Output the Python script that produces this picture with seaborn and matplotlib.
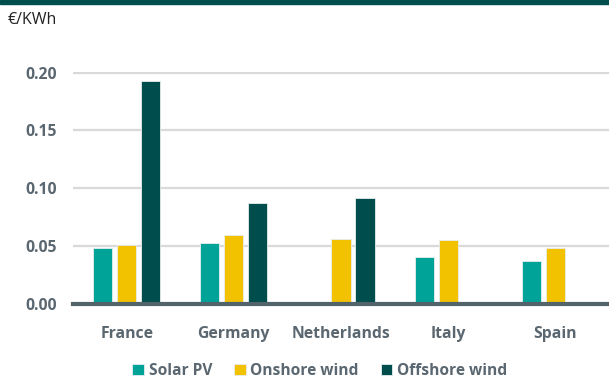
import numpy as np
import pandas as pd
import matplotlib
matplotlib.use("Agg")
import matplotlib.pyplot as plt
import seaborn as sns
from matplotlib.ticker import FixedLocator

countries = ["France", "Germany", "Netherlands", "Italy", "Spain"]
solar_pv = [0.048, 0.053, np.nan, 0.041, 0.037]
onshore_wind = [0.051, 0.060, 0.056, 0.055, 0.048]
offshore_wind = [0.193, 0.087, 0.092, np.nan, np.nan]
series_names = ["Solar PV", "Onshore wind", "Offshore wind"]
colors = ["#00A398", "#F2C100", "#004D4D"]
yticks = [0.00, 0.05, 0.10, 0.15, 0.20]
unit_label = "€/KWh"

rows = []
for name, vals in zip(series_names, [solar_pv, onshore_wind, offshore_wind]):
    for c, v in zip(countries, vals):
        rows.append({"country": c, "tech": name, "value": v})
df = pd.DataFrame(rows)

sns.set_theme(style="white")
plt.rcParams["font.family"] = ["Open Sans", "DejaVu Sans"]

fig = plt.figure(figsize=(6.09, 3.81), dpi=100)
ax = fig.add_axes([0.12, 0.202, 0.88, 0.609])

sns.barplot(data=df, x="country", y="value", hue="tech", order=countries,
            hue_order=series_names, palette=colors, saturation=1, width=0.67, gap=0.2,
            edgecolor="#e8eeee", linewidth=0.6, ax=ax, legend=True, zorder=3)

ax.set_xlim(-0.5, 4.5)
ax.set_ylim(0, 0.2005)
ax.set_yticks(yticks)
ax.set_yticklabels([f"{t:.2f}" for t in yticks])
ax.yaxis.grid(True, color="#d9d9d9", linewidth=1.6, zorder=0)
ax.set_axisbelow(True)
ax.set_xlabel("")
ax.set_ylabel("")

for s in ["top", "right", "left"]:
    ax.spines[s].set_visible(False)
ax.spines["bottom"].set_color("#53636B")
ax.spines["bottom"].set_linewidth(3)
ax.spines["bottom"].set_zorder(5)

label_color = "#5A6770"
ax.tick_params(axis="y", length=0, pad=11.5, labelsize=11.3, labelcolor=label_color)
ax.tick_params(axis="x", which="major", length=0, pad=16, labelsize=11.3, labelcolor=label_color)
ax.xaxis.set_minor_locator(FixedLocator(np.arange(-0.5, 5.0, 1.0)))
ax.tick_params(axis="x", which="minor", length=5, width=2.2, color="#53636B", direction="out")
plt.setp(ax.get_xticklabels(), fontweight="bold")
plt.setp(ax.get_yticklabels(), fontweight="bold")

handles, labels = ax.get_legend_handles_labels()
ax.get_legend().remove()
leg = fig.legend(handles, labels, loc="center", bbox_to_anchor=(0.525, 0.027), ncol=3,
                 frameon=False, prop={"weight": "bold", "size": 11.2}, handlelength=0.75,
                 handleheight=0.75, handletextpad=0.3, columnspacing=1.4)
for t in leg.get_texts():
    t.set_color(label_color)

fig.patches.append(plt.Rectangle((0, 1 - 4 / 381), 1, 4 / 381, transform=fig.transFigure,
                                 color="#004D4D", zorder=10))
fig.text(8 / 609, 1 - 20 / 381, unit_label, fontsize=11.5, color="#222222", va="center", ha="left")

fig.savefig("out.png", dpi=100)
